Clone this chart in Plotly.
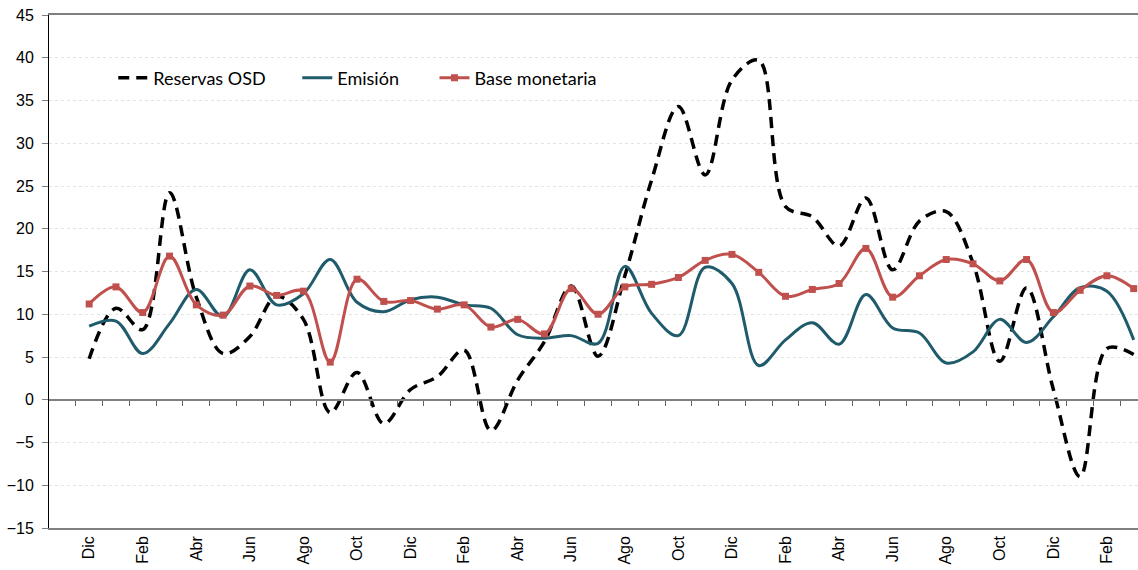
import plotly.graph_objects as go

# meses (Dic ... Mar), 40 observaciones mensuales
meses = ["Dic", "Ene", "Feb", "Mar", "Abr", "May", "Jun", "Jul", "Ago", "Sep", "Oct", "Nov"]
periodos = [meses[i % 12] for i in range(40)]

reservas_osd = [4.8, 10.7, 8.2, 24.2, 12.0, 5.4, 7.4, 12.1, 9.4, -1.5,
                3.2, -2.8, 1.2, 2.7, 5.8, -3.6, 2.3, 6.8, 13.3, 5.1,
                14.5, 25.7, 34.3, 26.3, 37.4, 39.7, 22.6, 21.4, 18.0, 23.6,
                15.2, 20.9, 22.0, 16.0, 4.5, 13.1, 1.2, -9.0, 6.0, 5.3]

emision = [8.6, 9.2, 5.4, 8.9, 12.9, 9.7, 15.2, 11.1, 12.4, 16.4,
           11.4, 10.3, 11.7, 12.0, 11.1, 10.7, 7.6, 7.2, 7.5, 6.6,
           15.6, 10.1, 7.5, 15.5, 13.6, 4.0, 7.0, 9.0, 6.5, 12.3,
           8.4, 7.8, 4.3, 5.6, 9.4, 6.7, 9.7, 13.1, 12.7, 7.0]

base_monetaria = [11.2, 13.2, 10.2, 16.8, 11.1, 9.9, 13.3, 12.2, 12.7, 4.4,
                  14.1, 11.5, 11.6, 10.6, 11.1, 8.5, 9.4, 7.7, 13.0, 10.0,
                  13.2, 13.5, 14.3, 16.3, 17.0, 14.9, 12.1, 12.9, 13.6, 17.7,
                  12.0, 14.5, 16.4, 15.9, 13.9, 16.4, 10.2, 12.8, 14.5, 13.0]

x = list(range(len(periodos)))
etiquetas_x = x[::2]
texto_x = periodos[::2]

fig = go.Figure()
# traza vacía para que se dibuje el eje de ceros con sus marcas
fig.add_trace(go.Scatter(x=[], y=[], xaxis="x2", yaxis="y", showlegend=False,
                         hoverinfo="skip"))
fig.add_trace(go.Scatter(
    x=x, y=reservas_osd, name="Reservas OSD", mode="lines", showlegend=True,
    line=dict(color="black", width=3.5, dash="11px,7px", shape="spline", smoothing=1),
    legend="legend"))
fig.add_trace(go.Scatter(
    x=x, y=emision, name="Emisión", mode="lines", showlegend=True,
    line=dict(color="#1f5b6b", width=3, shape="spline", smoothing=1),
    legend="legend2"))
fig.add_trace(go.Scatter(
    x=x, y=base_monetaria, name="Base monetaria", mode="lines+markers", showlegend=True,
    line=dict(color="#c0504d", width=3, shape="spline", smoothing=1),
    marker=dict(symbol="square", size=7, color="#c0504d"),
    legend="legend3"))

rango_x = [-1.5, 39.16]
leg = dict(orientation="h", yanchor="middle", y=0.877, xanchor="left", visible=True,
           bgcolor="rgba(0,0,0,0)", font=dict(family="Lato", size=18, color="black"))

fig.update_layout(
    width=1138, height=570,
    showlegend=True,
    margin=dict(l=49, r=0, t=15, b=42, autoexpand=False),
    plot_bgcolor="white", paper_bgcolor="white",
    font=dict(family="Liberation Sans", size=16, color="black"),
    legend=dict(leg, x=0.059),
    legend2=dict(leg, x=0.228),
    legend3=dict(leg, x=0.354),
    xaxis=dict(range=rango_x, tickmode="array", tickvals=etiquetas_x, ticktext=texto_x,
               tickangle=-90, showgrid=False, zeroline=False, ticks="",
               showline=True, linecolor="#808080", linewidth=1.5, mirror=True,
               tickfont=dict(size=16)),
    xaxis2=dict(range=rango_x, overlaying="x", anchor="free", position=0.25,
                tickmode="array", tickvals=[i + 0.5 for i in range(-1, 39)],
                ticks="outside", ticklen=5, tickcolor="#606060", tickwidth=1,
                showticklabels=False, showgrid=False, zeroline=False,
                showline=True, linecolor="#808080", linewidth=1.5),
    yaxis=dict(range=[-15, 45], dtick=5, showgrid=True, gridcolor="#e3e3e3",
               griddash="dot", gridwidth=1,
               zeroline=True, zerolinecolor="#808080", zerolinewidth=1.5,
               showline=True, linecolor="black", linewidth=1,
               ticks="outside", ticklen=6, tickcolor="#808080",
               ticklabelstandoff=5, tickfont=dict(size=16)),
)

fig.write_html("out.html", config={"displayModeBar": False},
               post_script="document.body.style.margin='0';")
